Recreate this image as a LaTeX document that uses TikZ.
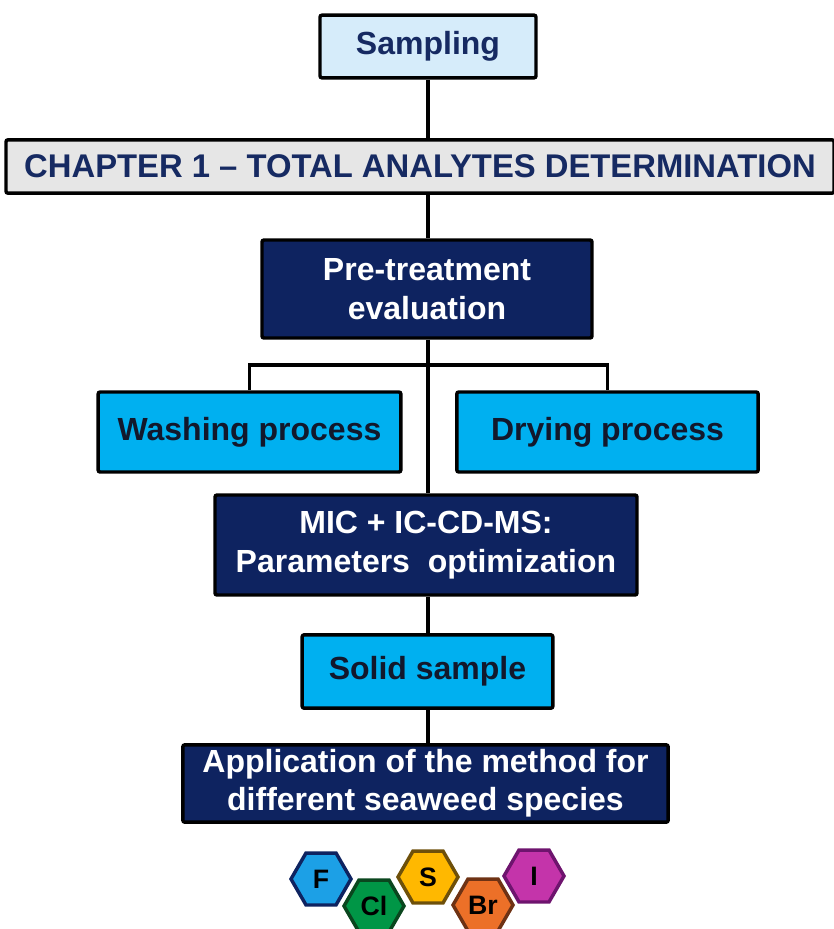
\documentclass[tikz,border=0pt]{standalone}
\usepackage{fontspec}
\setmainfont{Liberation Sans}
\usepackage{xcolor}
\usetikzlibrary{shapes.geometric}

\definecolor{navy}{RGB}{14,35,96}
\definecolor{navytext}{RGB}{22,42,98}
\definecolor{paleblue}{RGB}{214,236,250}
\definecolor{palegrey}{RGB}{230,230,230}
\definecolor{skyblue}{RGB}{0,176,240}
\definecolor{darktext}{RGB}{18,24,44}
\definecolor{hexF}{RGB}{28,160,230}
\definecolor{hexCl}{RGB}{0,150,70}
\definecolor{hexS}{RGB}{255,184,0}
\definecolor{hexBr}{RGB}{236,112,40}
\definecolor{hexI}{RGB}{196,52,170}

\begin{document}
\begin{tikzpicture}[x=0.75pt,y=-0.75pt,
    box/.style={draw=black,line width=2.6pt,rounded corners=1.5pt,align=center,inner sep=0pt,
      font=\fontsize{24}{28.8}\selectfont\bfseries},
    lightbox/.style={box,fill=paleblue,text=navytext},
    greybox/.style={box,fill=palegrey,text=navytext},
    navybox/.style={box,fill=navy,text=white},
    cyanbox/.style={box,fill=skyblue,text=darktext},
    link/.style={draw=black,line width=2.4pt},
    elem/.style={regular polygon,regular polygon sides=6,minimum size=45pt,inner sep=0pt,
      line width=2.6pt,font=\fontsize{20}{22}\selectfont\bfseries,text=black}]
\useasboundingbox (0,0) rectangle (833,929);

% boxes
\node[lightbox,minimum width=162pt,minimum height=47pt] (sampling) at (428,46.5) {Sampling};
\node[greybox,minimum width=621pt,minimum height=40pt,font=\fontsize{24.6}{28.8}\selectfont\bfseries] (chapter) at (420,166.5) {CHAPTER 1 -- TOTAL ANALYTES DETERMINATION};
\node[navybox,minimum width=247.5pt,minimum height=73.5pt] (pretreat) at (427,289) {Pre-treatment\\evaluation};
\node[cyanbox,minimum width=227pt,minimum height=60pt] (washing) at (249.5,432) {Washing process};
\node[cyanbox,minimum width=226pt,minimum height=60pt] (drying) at (607.5,432) {Drying process};
\node[navybox,minimum width=316.5pt,minimum height=75pt] (mic) at (426,545) {MIC + IC-CD-MS:\\Parameters~ optimization};
\node[cyanbox,minimum width=188pt,minimum height=55pt] (solid) at (427.5,671.5) {Solid sample};
\node[navybox,minimum width=364pt,minimum height=58pt] (application) at (425.5,783.5) {Application of the method for\\different seaweed species};

% connectors
\coordinate (branch) at (428,365);
\draw[link] (sampling.south) -- (sampling.south |- chapter.north);
\draw[link] (sampling.south |- chapter.south) -- (sampling.south |- pretreat.north);
\draw[link] (sampling.south |- pretreat.south) -- (sampling.south |- mic.north);
\draw[link] (washing.north) |- (branch) -| (drying.north);
\draw[link] (sampling.south |- mic.south) -- (sampling.south |- solid.north);
\draw[link] (sampling.south |- solid.south) -- (sampling.south |- application.north);

% elements
\node[elem,fill=hexF,draw=navy] (F) at (321,879) {F};
\node[elem,fill=hexS,draw={rgb,255:red,110;green,80;blue,10}] (S) at (428,877) {S};
\node[elem,fill=hexI,draw={rgb,255:red,110;green,20;blue,110}] (I) at (534,876) {I};
\node[elem,fill=hexCl,draw={rgb,255:red,10;green,70;blue,30}] (Cl) at (374,906) {Cl};
\node[elem,fill=hexBr,draw={rgb,255:red,110;green,50;blue,20}] (Br) at (483,905) {Br};
\end{tikzpicture}
\end{document}
